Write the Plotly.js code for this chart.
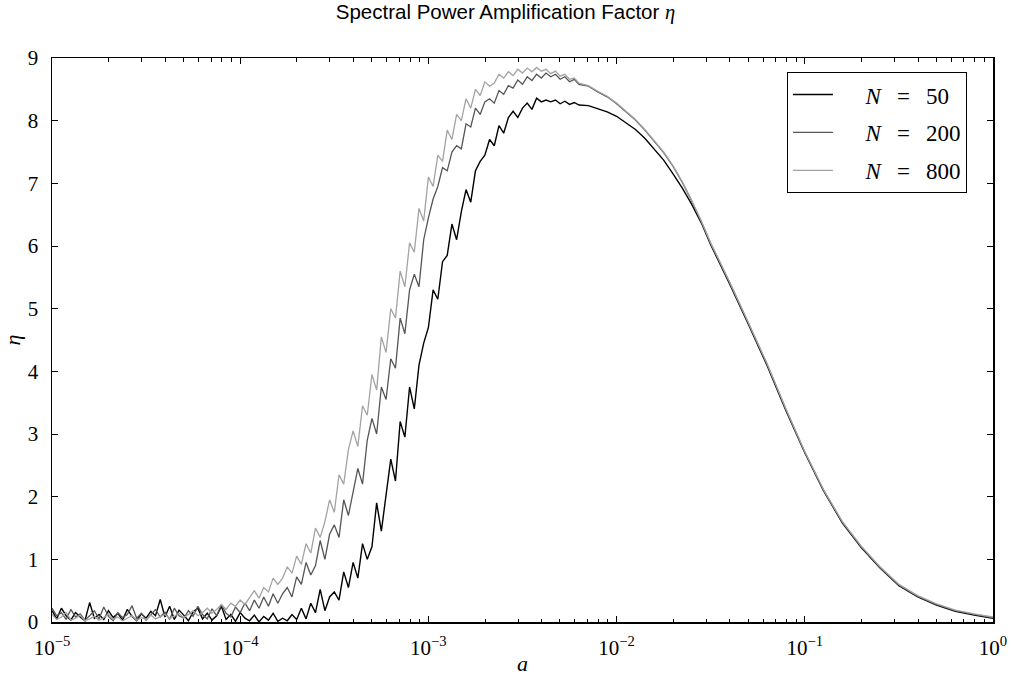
<!DOCTYPE html>
<html><head><meta charset="utf-8">
<script src="https://cdn.plot.ly/plotly-3.0.1.min.js"></script>
<style>html,body{margin:0;padding:0;background:#fff}</style>
</head><body><div id="chart" style="width:1011px;height:676px"></div>
<script>
// x values stored as log10(a)
const log10A = [
-5.000,-4.975,-4.950,-4.925,-4.900,-4.875,-4.850,-4.825,-4.800,-4.775,
-4.750,-4.725,-4.700,-4.675,-4.650,-4.625,-4.600,-4.575,-4.550,-4.525,
-4.500,-4.475,-4.450,-4.425,-4.400,-4.375,-4.350,-4.325,-4.300,-4.275,
-4.250,-4.225,-4.200,-4.175,-4.150,-4.125,-4.100,-4.075,-4.050,-4.025,
-4.000,-3.975,-3.950,-3.925,-3.900,-3.875,-3.850,-3.825,-3.800,-3.775,
-3.750,-3.725,-3.700,-3.675,-3.650,-3.625,-3.600,-3.575,-3.550,-3.525,
-3.500,-3.475,-3.450,-3.425,-3.400,-3.375,-3.350,-3.325,-3.300,-3.275,
-3.250,-3.225,-3.200,-3.175,-3.150,-3.125,-3.100,-3.075,-3.050,-3.025,
-3.000,-2.975,-2.950,-2.925,-2.900,-2.875,-2.850,-2.825,-2.800,-2.775,
-2.750,-2.725,-2.700,-2.675,-2.650,-2.625,-2.600,-2.575,-2.550,-2.525,
-2.500,-2.475,-2.450,-2.425,-2.400,-2.375,-2.350,-2.325,-2.300,-2.275,
-2.250,-2.225,-2.200,
-2.15,-2.10,-2.05,-2.00,-1.95,-1.90,-1.85,-1.80,-1.75,-1.70,-1.65,-1.60,-1.55,-1.50,
-1.40,-1.30,-1.20,-1.10,-1.00,-0.90,-0.80,-0.70,-0.60,-0.50,-0.40,-0.30,-0.20,-0.10,0.00
];

const eta50 = [
0.18,0.05,0.22,0.10,0.03,0.15,0.08,0.02,0.31,0.06,
0.12,0.04,0.18,0.07,0.14,0.03,0.20,0.09,0.02,0.13,
0.06,0.17,0.10,0.36,0.08,0.25,0.04,0.19,0.11,0.02,
0.16,0.22,0.05,0.14,0.03,0.10,0.25,0.04,0.12,0.01,
0.15,0.06,0.02,0.11,0.00,0.09,0.03,0.14,0.01,0.06,
0.02,0.12,0.04,0.22,0.05,0.30,0.15,0.52,0.18,0.40,
0.48,0.35,0.80,0.55,0.95,0.70,1.25,1.00,1.20,1.90,
1.45,2.05,2.60,2.25,3.20,2.95,3.75,3.40,4.10,4.45,
4.70,5.30,5.15,5.75,5.85,6.35,6.10,6.55,6.90,6.70,
7.20,7.35,7.45,7.70,7.60,7.92,7.80,8.05,8.15,8.05,
8.20,8.28,8.18,8.36,8.30,8.33,8.30,8.33,8.27,8.31,
8.26,8.29,8.25,
8.24,8.19,8.14,8.07,7.97,7.86,7.72,7.55,7.37,7.15,6.92,6.66,6.37,6.02,
5.40,4.75,4.09,3.37,2.70,2.09,1.58,1.19,0.86,0.58,0.40,0.27,0.17,0.11,0.06
];

const eta200 = [
0.22,0.10,0.15,0.04,0.20,0.08,0.13,0.03,0.10,0.18,
0.05,0.24,0.09,0.02,0.15,0.07,0.12,0.26,0.06,0.14,
0.03,0.11,0.20,0.08,0.16,0.04,0.22,0.10,0.06,0.18,
0.09,0.25,0.12,0.05,0.21,0.10,0.28,0.14,0.08,0.24,
0.15,0.30,0.18,0.35,0.22,0.40,0.25,0.45,0.30,0.45,
0.55,0.40,0.72,0.60,0.95,0.75,0.90,1.30,1.00,1.40,
1.55,1.35,1.95,1.70,2.10,2.45,2.20,2.90,3.25,3.00,
3.75,3.55,4.20,4.05,4.85,4.60,5.30,5.55,5.35,6.10,
6.45,6.75,6.95,7.25,7.20,7.50,7.60,7.55,7.95,7.90,
8.20,8.10,8.30,8.35,8.28,8.48,8.42,8.56,8.52,8.65,
8.58,8.70,8.64,8.74,8.68,8.76,8.70,8.74,8.66,8.70,
8.62,8.66,8.58,
8.55,8.46,8.38,8.27,8.14,8.01,7.85,7.67,7.49,7.27,7.01,6.71,6.39,6.04,
5.42,4.77,4.11,3.39,2.71,2.10,1.59,1.20,0.87,0.59,0.41,0.28,0.18,0.12,0.07
];

const eta800 = [
0.12,0.04,0.08,0.15,0.03,0.06,0.11,0.02,0.05,0.09,
0.03,0.07,0.13,0.04,0.08,0.02,0.06,0.10,0.03,0.07,
0.04,0.11,0.05,0.08,0.12,0.06,0.09,0.14,0.07,0.12,
0.18,0.10,0.15,0.22,0.14,0.20,0.28,0.20,0.30,0.25,
0.35,0.28,0.40,0.50,0.38,0.55,0.48,0.70,0.60,0.70,
0.88,0.78,1.05,0.92,1.25,1.10,1.50,1.35,1.60,1.95,
1.75,2.35,2.20,2.75,3.05,2.80,3.45,3.30,3.95,3.70,
4.55,4.30,5.00,4.85,5.60,5.35,6.05,5.90,6.60,6.40,
7.10,6.95,7.45,7.35,7.85,7.70,8.10,8.00,8.35,8.20,
8.50,8.40,8.62,8.55,8.60,8.74,8.68,8.78,8.72,8.82,
8.76,8.84,8.78,8.85,8.79,8.82,8.75,8.79,8.71,8.74,
8.66,8.68,8.60,
8.56,8.47,8.39,8.28,8.15,8.02,7.86,7.68,7.50,7.28,7.02,6.72,6.40,6.05,
5.43,4.78,4.12,3.40,2.72,2.11,1.60,1.21,0.88,0.60,0.42,0.29,0.19,0.13,0.08
];

const seriesNames = [
  '\u2003\u2009<i>N</i>\u2002\u2009=\u2002\u200950',
  '\u2003\u2009<i>N</i>\u2002\u2009=\u2002\u2009200',
  '\u2003\u2009<i>N</i>\u2002\u2009=\u2002\u2009800'
];
const seriesColors = ['#000000', '#555555', '#a3a3a3'];
const seriesWidths = [1.4, 1.3, 1.3];
const xTickVals = [1e-5, 1e-4, 1e-3, 1e-2, 1e-1, 1];
const xTickText = ['10<sup>−5</sup>', '10<sup>−4</sup>', '10<sup>−3</sup>', '10<sup>−2</sup>', '10<sup>−1</sup>', '10<sup>0</sup>'];
const yTickVals = [0,1,2,3,4,5,6,7,8,9];

const a = log10A.map(u => Math.pow(10, u));
const allEta = [eta50, eta200, eta800];

const traces = allEta.map((eta, i) => ({
  type: 'scatter', mode: 'lines',
  x: a, y: eta,
  name: seriesNames[i],
  legendgroup: 'g' + i,
  line: {color: seriesColors[i], width: seriesWidths[i]},
  hoverinfo: 'skip'
}));

const minorVals = [];
for (let d = -5; d < 0; d++) for (let m = 2; m <= 9; m++) minorVals.push(m * Math.pow(10, d));

const serif = "'Liberation Serif', 'DejaVu Serif', serif";

const layout = {
  width: 1011, height: 676,
  margin: {l: 52, r: 18, t: 58, b: 54, pad: 0},
  paper_bgcolor: '#ffffff', plot_bgcolor: '#ffffff',
  showlegend: true,
  title: {
    text: 'Spectral Power Amplification Factor <span style="font-family:Liberation Serif"><i>η</i></span>',
    font: {family: "'Liberation Sans', Arial, sans-serif", size: 20.5, color: '#000'},
    x: 0.5, xanchor: 'center', y: 1 - 12/676, yanchor: 'middle'
  },
  xaxis: {
    type: 'log', range: [-5, 0],
    tickmode: 'array', tickvals: xTickVals, ticktext: xTickText,
    ticks: 'inside', ticklen: 6, tickwidth: 1, tickcolor: '#000',
    showline: true, linecolor: '#000', linewidth: 1.5, mirror: 'allticks',
    showgrid: false, zeroline: false,
    tickfont: {family: serif, size: 21, color: '#000'},
    ticklabelstandoff: 6,
    minor: {tickmode: 'array', tickvals: minorVals, ticks: 'inside', ticklen: 3.5, tickwidth: 1, tickcolor: '#000', showgrid: false},
    title: {text: '<i>a</i>', font: {family: serif, size: 22, color: '#000'}, standoff: 0},
    automargin: false
  },
  yaxis: {
    range: [0, 9],
    tickmode: 'array', tickvals: yTickVals,
    ticks: 'inside', ticklen: 6, tickwidth: 1, tickcolor: '#000',
    showline: true, linecolor: '#000', linewidth: 1.5, mirror: 'allticks',
    showgrid: false, zeroline: false,
    tickfont: {family: serif, size: 21, color: '#000'},
    ticklabelstandoff: 8,
    title: {text: '<i>η</i>', font: {family: serif, size: 22, color: '#000'}, standoff: 6},
    automargin: false
  },
  legend: {
    x: 0.781, y: 0.975, xanchor: 'left', yanchor: 'top',
    bgcolor: '#ffffff', bordercolor: '#000', borderwidth: 1,
    font: {family: serif, size: 23, color: '#000'},
    itemwidth: 40, tracegroupgap: 5
  }
};

Plotly.newPlot('chart', traces, layout, {displayModeBar: false, staticPlot: true});
</script>
</body></html>
